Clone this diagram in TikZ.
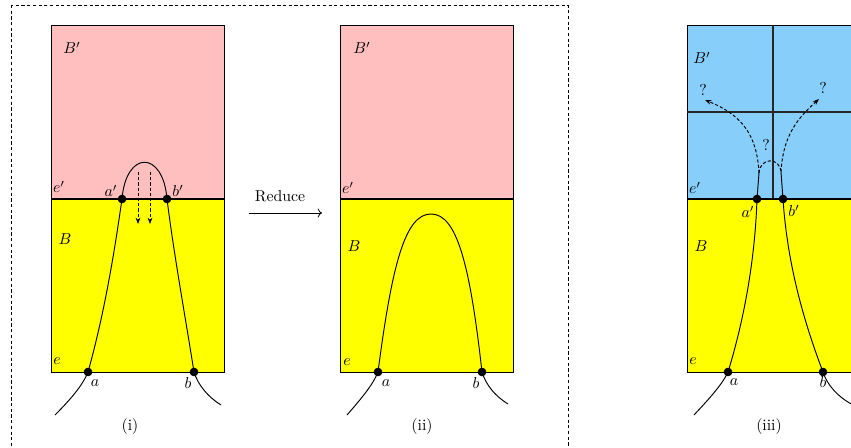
\documentclass[tikz,border=0pt]{standalone}
\usetikzlibrary{arrows.meta}
\definecolor{pinkbox}{RGB}{255,191,191}
\definecolor{bluebox}{RGB}{135,206,250}
\definecolor{yellowbox}{RGB}{255,255,0}
\tikzset{
  box/.style={draw=black, line width=0.6pt},
  seam/.style={black, line width=1.1pt},
  cell/.style={black!85, line width=0.8pt},
  strand/.style={black, line width=0.6pt},
  guessline/.style={black, line width=0.6pt, dash pattern=on 2pt off 1.3pt},
  guess/.style={guessline, -{Stealth[length=4pt,width=3pt]}},
}
\begin{document}
\begin{tikzpicture}[x=0.02225cm,y=-0.02225cm]
\useasboundingbox (0,0) rectangle (851,448);
\clip (0,0) rectangle (851,448);
% frame round (i) and (ii)
\draw[black, line width=0.5pt, dash pattern=on 2pt off 1.6pt] (11,5) rectangle (568,470);

% (i)
\fill[pinkbox] (51,25) rectangle (224,199);
\fill[yellowbox] (51,199) rectangle (224,372);
\draw[box] (51,25) rectangle (224,372);
\draw[seam] (51,199) -- (224,199);
\coordinate (a1) at (88,372);
\coordinate (b1) at (194,372);
\coordinate (ap1) at (122,199);
\coordinate (bp1) at (167,199);
\draw[strand] (55,415) .. controls (70,400) and (83,385) .. (a1)
  .. controls (104,315) and (114,255) .. (ap1)
  .. controls (126,150) and (163,150) .. (bp1)
  .. controls (174,255) and (185,315) .. (b1)
  .. controls (198,385) and (208,397) .. (221,405);
\coordinate (s1) at (138,172);
\coordinate (t1) at (138,224);
\coordinate (s2) at (150,172);
\coordinate (t2) at (150,224);
\draw[guess] (s1) -- (t1);
\draw[guess] (s2) -- (t2);
\filldraw[black] (a1) circle (2.5pt);
\filldraw[black] (b1) circle (2.5pt);
\filldraw[black] (ap1) circle (2.5pt);
\filldraw[black] (bp1) circle (2.5pt);
\node (Bp1) at (72,48) {$B'$};
\node (ep1) at (59,187) {$e'$};
\node (la1) at (111,191) {$a'$};
\node (lb1) at (178,191) {$b'$};
\node (B1) at (65,239) {$B$};
\node (e1) at (57,361) {$e$};
\node (a1l) at (95,383) {$a$};
\node (b1l) at (188,383) {$b$};
\node (cap1) at (130,427) {(i)};

% reduce
\coordinate (r0) at (249,213);
\coordinate (r1) at (322,213);
\draw[black, line width=0.5pt, ->] (r0) -- (r1);
\node (red) at (280,196) {Reduce};

% (ii)
\fill[pinkbox] (340,25) rectangle (513,199);
\fill[yellowbox] (340,199) rectangle (513,372);
\draw[box] (340,25) rectangle (513,372);
\draw[seam] (340,199) -- (513,199);
\coordinate (a2) at (378,372);
\coordinate (b2) at (482,372);
\coordinate (top2) at (431,214);
\draw[strand] (347,415) .. controls (360,400) and (373,385) .. (a2)
  .. controls (392,265) and (405,214) .. (top2)
  .. controls (457,214) and (470,265) .. (b2)
  .. controls (486,385) and (495,396) .. (508,404);
\filldraw[black] (a2) circle (2.5pt);
\filldraw[black] (b2) circle (2.5pt);
\node (Bp2) at (362,48) {$B'$};
\node (ep2) at (348,188) {$e'$};
\node (B2) at (354,246) {$B$};
\node (e2) at (347,362) {$e$};
\node (a2l) at (386,383) {$a$};
\node (b2l) at (476,383) {$b$};
\node (cap2) at (422,427) {(ii)};

% (iii)
\fill[bluebox] (687,25) rectangle (860,199);
\fill[yellowbox] (687,199) rectangle (860,372);
\draw[box] (687,25) rectangle (860,372);
\draw[cell] (773,25) -- (773,199);
\draw[cell] (687,112) -- (860,112);
\draw[seam] (687,199) -- (860,199);
\coordinate (a3) at (728,372);
\coordinate (b3) at (823,372);
\coordinate (ap3) at (757,199);
\coordinate (bp3) at (783,199);
\coordinate (c3) at (759,173);
\coordinate (d3) at (781,172);
\coordinate (q1) at (705,100);
\coordinate (q2) at (819,99);
\draw[strand] (694,415) .. controls (708,400) and (722,385) .. (a3)
  .. controls (744,320) and (755,260) .. (ap3) -- (c3);
\draw[strand] (d3) -- (bp3)
  .. controls (787,260) and (802,317) .. (b3)
  .. controls (827,385) and (838,397) .. (853,405);
\draw[guessline] (c3) .. controls (760,157) and (780,157) .. (d3);
\draw[guess] (c3) .. controls (757,135) and (742,115) .. (q1);
\draw[guess] (d3) .. controls (783,135) and (798,118) .. (q2);
\filldraw[black] (a3) circle (2.5pt);
\filldraw[black] (b3) circle (2.5pt);
\filldraw[black] (ap3) circle (2.5pt);
\filldraw[black] (bp3) circle (2.5pt);
\node (Bp3) at (702,58) {$B'$};
\node (ep3) at (695,188) {$e'$};
\node (la3) at (748,212) {$a'$};
\node (lb3) at (794,211) {$b'$};
\node (B3) at (701,246) {$B$};
\node (e3) at (693,361) {$e$};
\node (a3l) at (734,382) {$a$};
\node (b3l) at (823,382) {$b$};
\node (qm1) at (703,90) {?};
\node (qm2) at (823,88) {?};
\node (qm3) at (766,145) {?};
\node (cap3) at (769,427) {(iii)};
\end{tikzpicture}
\end{document}
